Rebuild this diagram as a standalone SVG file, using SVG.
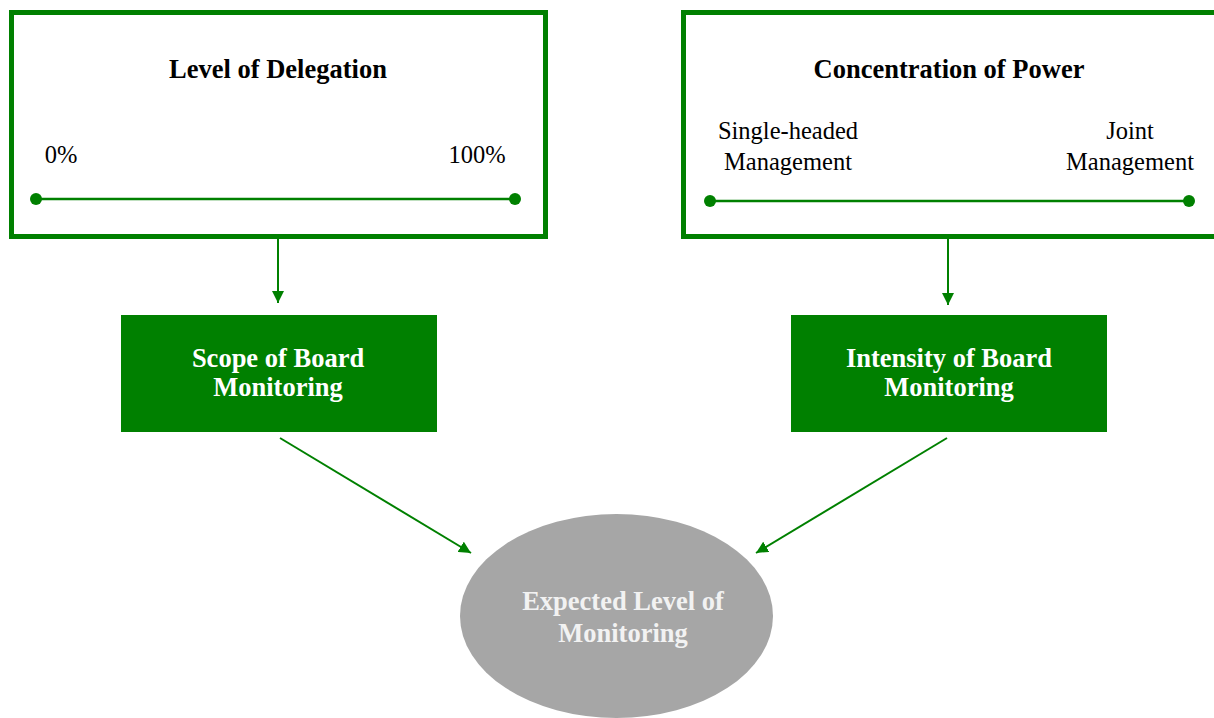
<svg xmlns="http://www.w3.org/2000/svg" width="1214" height="718" viewBox="0 0 1214 718">
  <style>
    .frame { fill: #ffffff; stroke: #008000; stroke-width: 5; }
    .scale { stroke: #008000; stroke-width: 2.5; }
    .dot { fill: #008000; }
    .title { font-family: "Liberation Serif", "Times New Roman", serif; font-weight: bold; font-size: 26.5px; fill: #000000; text-anchor: middle; }
    .tick { font-family: "Liberation Serif", "Times New Roman", serif; font-size: 24.5px; fill: #000000; text-anchor: middle; }
    .box { fill: #008000; }
    .boxlabel { font-family: "Liberation Serif", "Times New Roman", serif; font-weight: bold; font-size: 26.5px; fill: #ffffff; text-anchor: middle; }
    .oval { fill: #a6a6a6; }
    .ovallabel { font-family: "Liberation Serif", "Times New Roman", serif; font-weight: bold; font-size: 26.5px; fill: #f2f2f2; text-anchor: middle; }
    .link { stroke: #008000; stroke-width: 2; fill: none; marker-end: url(#head); }
  </style>
  <defs>
    <marker id="head" viewBox="0 0 12 12" refX="12" refY="6" markerWidth="12" markerHeight="12" markerUnits="userSpaceOnUse" orient="auto">
      <path d="M0,0 L12,6 L0,12 Z" fill="#008000"/>
    </marker>
  </defs>

  <rect width="1214" height="718" fill="#ffffff"/>

  <g id="delegation">
    <rect class="frame" x="11.5" y="12.5" width="534" height="224"/>
    <text class="title" x="278" y="78">Level of Delegation</text>
    <text class="tick" x="61" y="163">0%</text>
    <text class="tick" x="477" y="163">100%</text>
    <line class="scale" x1="36" y1="199" x2="515" y2="199"/>
    <circle class="dot" cx="36" cy="199" r="6"/>
    <circle class="dot" cx="515" cy="199" r="6"/>
  </g>

  <g id="concentration">
    <rect class="frame" x="683.5" y="12.5" width="540" height="224"/>
    <text class="title" x="949" y="78">Concentration of Power</text>
    <text class="tick" x="788" y="139">Single-headed</text>
    <text class="tick" x="788" y="170">Management</text>
    <text class="tick" x="1130" y="139">Joint</text>
    <text class="tick" x="1130" y="170">Management</text>
    <line class="scale" x1="710" y1="201" x2="1189" y2="201"/>
    <circle class="dot" cx="710" cy="201" r="6"/>
    <circle class="dot" cx="1189" cy="201" r="6"/>
  </g>

  <g id="scope">
    <rect class="box" x="121" y="315" width="316" height="117"/>
    <text class="boxlabel" x="278" y="367">Scope of Board</text>
    <text class="boxlabel" x="278" y="396">Monitoring</text>
  </g>

  <g id="intensity">
    <rect class="box" x="791" y="315" width="316" height="117"/>
    <text class="boxlabel" x="949" y="367">Intensity of Board</text>
    <text class="boxlabel" x="949" y="396">Monitoring</text>
  </g>

  <g id="expected">
    <ellipse class="oval" cx="616.5" cy="616" rx="156.5" ry="102"/>
    <text class="ovallabel" x="623" y="610">Expected Level of</text>
    <text class="ovallabel" x="623" y="642">Monitoring</text>
  </g>

  <g id="connectors">
    <line class="link" x1="278" y1="239" x2="278" y2="303"/>
    <line class="link" x1="948" y1="239" x2="948" y2="305"/>
    <line class="link" x1="280" y1="438" x2="471" y2="553"/>
    <line class="link" x1="947" y1="438" x2="756" y2="553"/>
  </g>
</svg>
